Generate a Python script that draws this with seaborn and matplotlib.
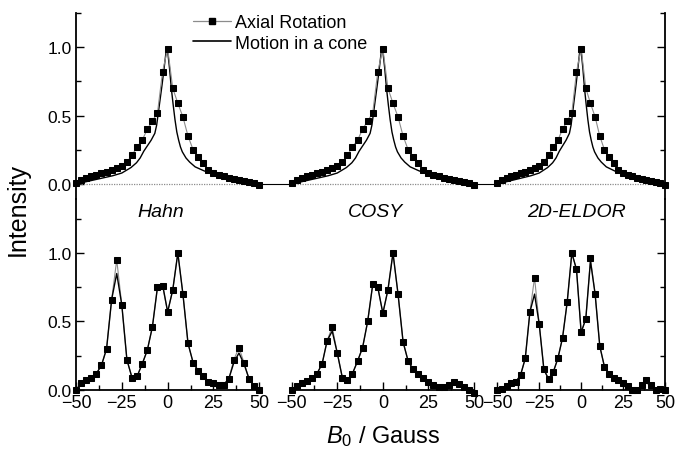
import numpy as np
import matplotlib
matplotlib.use('Agg')
import matplotlib.pyplot as plt
import seaborn as sns
from matplotlib.lines import Line2D
from matplotlib.ticker import FixedLocator, FormatStrFormatter

sns.set_style('ticks')
plt.rcParams['font.family'] = ['Liberation Sans', 'DejaVu Sans']
plt.rcParams['mathtext.fontset'] = 'custom'
plt.rcParams['mathtext.it'] = 'Liberation Sans:italic'
plt.rcParams['mathtext.rm'] = 'Liberation Sans'
for k in ['text.color', 'axes.labelcolor', 'xtick.color', 'ytick.color',
          'axes.edgecolor', 'xtick.labelcolor', 'ytick.labelcolor']:
    plt.rcParams[k] = 'black'

# ---------------- data ----------------
field = np.linspace(-50, 50, 37)  # B0 sampling grid (Gauss)

top_axial = [0.01, 0.03, 0.04, 0.055, 0.067, 0.08, 0.09, 0.10, 0.115, 0.13,
             0.16, 0.21, 0.27, 0.32, 0.40, 0.46, 0.52, 0.82, 0.99, 0.70,
             0.59, 0.49, 0.35, 0.25, 0.20, 0.15, 0.10, 0.08, 0.067, 0.055,
             0.042, 0.035, 0.03, 0.022, 0.015, 0.008, -0.01]

cone_x = [-50, -40, -30, -25, -20, -17, -15, -13, -11, -9, -7, -6, -5, -4, -3,
          -2, -1, -0.5, 0, 1, 2, 3, 4, 5, 6, 7, 8, 10, 12, 15, 20, 25, 30, 35,
          40, 45, 50]
cone_y = [0.0, 0.03, 0.06, 0.08, 0.12, 0.155, 0.19, 0.24, 0.28, 0.32, 0.37,
          0.43, 0.53, 0.63, 0.73, 0.84, 0.95, 1.0, 0.97, 0.85, 0.70, 0.58,
          0.47, 0.38, 0.32, 0.27, 0.235, 0.19, 0.16, 0.125, 0.095, 0.075,
          0.058, 0.045, 0.032, 0.018, 0.0]

hahn_axial = [0.0, 0.05, 0.07, 0.09, 0.12, 0.18, 0.30, 0.66, 0.95, 0.62, 0.22,
              0.09, 0.10, 0.19, 0.29, 0.46, 0.75, 0.76, 0.57, 0.73, 1.0, 0.70,
              0.34, 0.20, 0.14, 0.10, 0.06, 0.05, 0.04, 0.04, 0.08, 0.22, 0.31,
              0.20, 0.08, 0.03, 0.0]
hahn_cone = [0.0, 0.05, 0.07, 0.09, 0.12, 0.18, 0.30, 0.66, 0.85, 0.62, 0.22,
             0.09, 0.10, 0.19, 0.29, 0.46, 0.75, 0.77, 0.57, 0.73, 1.0, 0.70,
             0.34, 0.20, 0.14, 0.10, 0.06, 0.05, 0.04, 0.04, 0.08, 0.20, 0.27,
             0.19, 0.08, 0.03, 0.0]

cosy_axial = [0.0, 0.03, 0.05, 0.065, 0.085, 0.12, 0.19, 0.36, 0.46, 0.27, 0.09,
              0.07, 0.12, 0.21, 0.31, 0.50, 0.77, 0.75, 0.56, 0.73, 1.0, 0.70,
              0.35, 0.21, 0.15, 0.12, 0.09, 0.06, 0.04, 0.02, 0.02, 0.035, 0.055,
              0.045, 0.025, 0.0, -0.02]
cosy_cone = [0.0, 0.03, 0.05, 0.065, 0.085, 0.12, 0.19, 0.36, 0.43, 0.27, 0.09,
             0.07, 0.12, 0.21, 0.31, 0.50, 0.77, 0.75, 0.56, 0.73, 1.0, 0.70,
             0.35, 0.21, 0.15, 0.12, 0.09, 0.06, 0.04, 0.02, 0.02, 0.035, 0.05,
             0.045, 0.025, 0.0, -0.02]

eldor_axial = [0.0, 0.01, 0.03, 0.05, 0.06, 0.11, 0.23, 0.57, 0.82, 0.48, 0.15,
               0.08, 0.13, 0.23, 0.38, 0.64, 1.0, 0.88, 0.42, 0.52, 0.96, 0.70,
               0.32, 0.17, 0.12, 0.09, 0.07, 0.05, 0.03, 0.0, 0.0, 0.035, 0.07,
               0.04, 0.0, 0.005, 0.0]
eldor_cone = [0.0, 0.01, 0.03, 0.05, 0.06, 0.11, 0.23, 0.57, 0.70, 0.48, 0.15,
              0.08, 0.13, 0.23, 0.38, 0.64, 1.0, 0.88, 0.42, 0.52, 0.94, 0.70,
              0.32, 0.17, 0.12, 0.09, 0.07, 0.05, 0.03, 0.0, 0.0, 0.035, 0.05,
              0.04, 0.0, 0.005, 0.0]

panel_names = ['Hahn', 'COSY', '2D-ELDOR']
bottom_axial = [hahn_axial, cosy_axial, eldor_axial]
bottom_cone = [hahn_cone, cosy_cone, eldor_cone]
legend_labels = ['Axial Rotation', 'Motion in a cone']
x_ticks = [-50, -25, 0, 25, 50]
y_ticks = [0.0, 0.5, 1.0]

# ---------------- layout ----------------
W, H = 675, 452
fig = plt.figure(figsize=(W / 100, H / 100), dpi=100)

cols_px = [(76, 259.3), (291.7, 474), (497.3, 665)]
top_px = (14, 200)
bot_px = (200, 391)


def rect(xpx, ypx):
    x0, x1 = xpx
    y0, y1 = ypx
    return [x0 / W, 1 - y1 / H, (x1 - x0) / W, (y1 - y0) / H]


AX_COL = '#8c8c8c'
LW_SPINE = 1.3
axial_kw = dict(color=AX_COL, lw=0.8, marker='s', markersize=4.3,
                markerfacecolor='k', markeredgecolor='k', clip_on=False)
cone_kw = dict(color='k', lw=1.0, clip_on=False)

top_axes, bot_axes = [], []
for i, xpx in enumerate(cols_px):
    at = fig.add_axes(rect(xpx, top_px))
    ab = fig.add_axes(rect(xpx, bot_px))
    top_axes.append(at)
    bot_axes.append(ab)

    # top row
    at.axhline(0, color='#8c8c8c', lw=0.9, ls=(0, (1, 1)), zorder=1)
    sns.lineplot(x=cone_x, y=cone_y, ax=at, **cone_kw)
    sns.lineplot(x=field, y=top_axial, ax=at, **axial_kw)
    at.set_xlim(-50, 50)
    at.set_ylim(-0.11, 1.25)

    # bottom row
    sns.lineplot(x=field, y=bottom_axial[i], ax=ab, **axial_kw)
    sns.lineplot(x=field, y=bottom_cone[i], ax=ab, **cone_kw)
    ab.set_xlim(-50, 50)
    ab.set_ylim(0, 1.394)
    ab.text([-3.6, -4.1, -2.7][i], 1.30, panel_names[i], style='italic',
            fontsize=14, ha='center', va='center')

    for a in (at, ab):
        a.set_facecolor('none')
        for s in a.spines.values():
            s.set_visible(False)
            s.set_linewidth(LW_SPINE)
            s.set_color('black')
        a.set_xlabel('')
        a.set_ylabel('')
        a.tick_params(which='both', direction='in', width=1.0,
                      left=False, right=False, top=False, bottom=False,
                      labelleft=False, labelbottom=False)
        a.yaxis.set_major_locator(FixedLocator(y_ticks))
        a.yaxis.set_minor_locator(FixedLocator([0.25, 0.75, 1.25]))
        a.yaxis.set_major_formatter(FormatStrFormatter('%.1f'))
        if a.get_legend():
            a.get_legend().remove()

    ab.spines['bottom'].set_visible(True)
    ab.xaxis.set_major_locator(FixedLocator(x_ticks))
    ab.xaxis.set_minor_locator(FixedLocator([-37.5, -12.5, 12.5, 37.5]))
    ab.tick_params(axis='x', which='both', bottom=True, labelbottom=True,
                   labelsize=13, pad=3)
    ab.tick_params(axis='x', which='major', length=6)
    ab.tick_params(axis='x', which='minor', length=3.5)

    if i == 0:
        for a in (at, ab):
            a.spines['left'].set_visible(True)
            a.tick_params(axis='y', which='both', left=True)
            a.tick_params(axis='y', which='major', length=6, labelleft=True,
                          labelsize=12.5, pad=3)
            a.tick_params(axis='y', which='minor', length=3.5)
    if i == 2:
        for a in (at, ab):
            a.spines['right'].set_visible(True)
            a.tick_params(axis='y', which='both', right=True)
            a.tick_params(axis='y', which='major', length=6)
            a.tick_params(axis='y', which='minor', length=3.5)

# baseline segments across the gaps of the top row
y0_fig = 1 - 185 / H
for (a, b) in [(cols_px[0][1], cols_px[1][0]), (cols_px[1][1], cols_px[2][0])]:
    fig.add_artist(Line2D([a / W, b / W], [y0_fig, y0_fig], color='k', lw=0.8))

# legend
handles = [Line2D([], [], color=AX_COL, lw=0.9, marker='s', markersize=4.3,
                  markerfacecolor='k', markeredgecolor='k'),
           Line2D([], [], color='k', lw=1.2)]
fig.legend(handles, legend_labels, loc='upper left',
           bbox_to_anchor=(193 / W, 1 - 15 / H), frameon=False, fontsize=13,
           handlelength=2.1, handletextpad=0.25, labelspacing=0.2,
           borderpad=0, borderaxespad=0)

fig.text(18 / W, 1 - 210 / H, 'Intensity', rotation=90, fontsize=18,
         ha='center', va='center')
fig.text(383 / W, 1 - 437 / H, r'$B_{\mathit{0}}$ / Gauss', fontsize=17,
         ha='center', va='center')

fig.savefig('out.png', dpi=100)
